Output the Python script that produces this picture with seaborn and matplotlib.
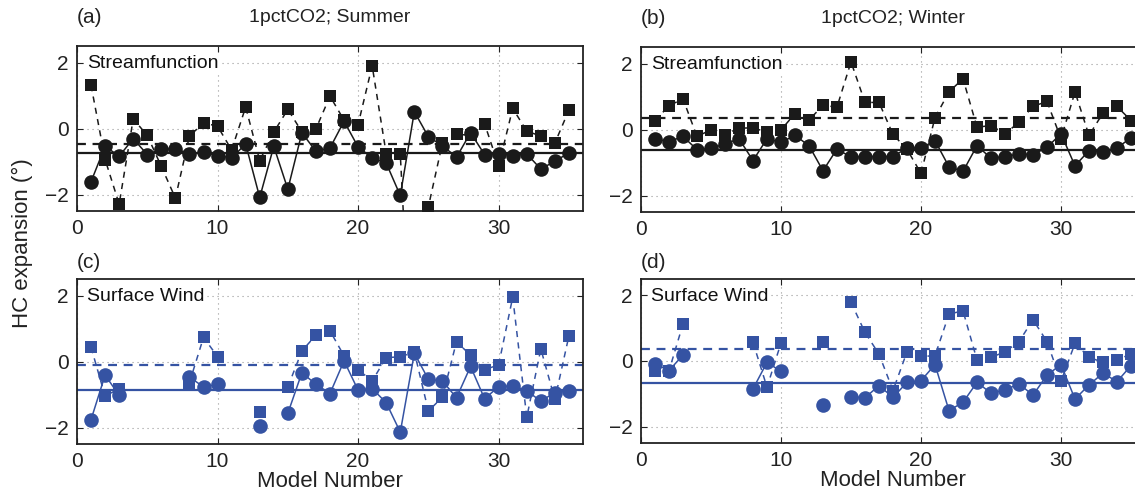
import numpy as np
import pandas as pd
import matplotlib
matplotlib.use("Agg")
import matplotlib.pyplot as plt
import seaborn as sns

nan = np.nan
models = list(range(1, 36))

# (a) summer, streamfunction
a_circ = [-1.61, -0.54, -0.84, -0.31, -0.79, -0.62, -0.62, -0.77, -0.72, -0.82, -0.89, -0.47,
          -2.09, -0.54, -1.84, -0.13, -0.69, -0.59, 0.22, -0.56, -0.89, -1.05, -2.03, 0.51,
          -0.25, -0.52, -0.87, -0.13, -0.79, -0.76, -0.82, -0.77, -1.23, -0.99, -0.74]
a_sq = [1.31, -0.94, -2.29, 0.29, -0.21, -1.15, -2.11, -0.23, 0.17, 0.07, -0.65, 0.65,
        -0.97, -0.11, 0.58, -0.10, -0.01, 0.98, 0.25, 0.12, 1.90, -0.77, -0.77, -9.0,
        -2.37, -0.44, -0.18, -0.20, 0.14, -1.13, 0.61, -0.08, -0.23, -0.44, 0.56]
# (b) winter, streamfunction
b_circ = [-0.28, -0.37, -0.21, -0.61, -0.57, -0.44, -0.28, -0.94, -0.28, -0.39, -0.18, -0.49,
          -1.25, -0.59, -0.84, -0.82, -0.82, -0.82, -0.56, -0.56, -0.34, -1.13, -1.27, -0.49,
          -0.87, -0.82, -0.74, -0.76, -0.54, -0.13, -1.10, -0.64, -0.67, -0.56, -0.25]
b_sq = [0.27, 0.72, 0.93, -0.21, -0.01, -0.16, 0.04, 0.05, -0.08, -0.01, 0.48, 0.29,
        0.73, 0.68, 2.05, 0.82, 0.82, -0.15, -0.60, -1.33, 0.36, 1.14, 1.54, 0.07,
        0.12, -0.13, 0.22, 0.70, 0.85, -0.28, 1.14, -0.18, 0.50, 0.70, 0.27]
# (c) summer, surface wind
c_circ = [-1.76, -0.41, -1.03, nan, nan, nan, nan, -0.47, -0.77, -0.69, nan, nan,
          -1.94, nan, -1.57, -0.34, -0.69, -0.97, 0.02, -0.87, -0.82, -1.25, -2.14, 0.25,
          -0.54, -0.59, -1.10, -0.15, -1.13, -0.76, -0.74, -0.89, -1.20, -0.94, -0.89]
c_sq = [0.43, -1.05, -0.82, nan, nan, nan, nan, -0.64, 0.73, 0.15, nan, nan,
        -1.52, nan, -0.77, 0.32, 0.80, 0.93, 0.17, -0.25, -0.59, 0.12, 0.14, 0.29,
        -1.50, -1.08, 0.60, 0.19, -0.25, -0.10, 1.95, -1.69, 0.38, -1.15, 0.78]
# (d) winter, surface wind
d_circ = [-0.09, -0.29, 0.18, nan, nan, nan, nan, -0.85, -0.04, -0.32, nan, nan,
          -1.34, nan, -1.09, -1.12, -0.75, -1.11, -0.65, -0.60, -0.11, -1.51, -1.26, -0.65,
          -0.98, -0.88, -0.70, -1.04, -0.43, -0.11, -1.16, -0.73, -0.37, -0.63, -0.14]
d_sq = [-0.32, -0.30, 1.13, nan, nan, nan, nan, 0.57, -0.80, 0.55, nan, nan,
        0.59, nan, 1.79, 0.87, 0.21, -0.90, 0.28, 0.14, 0.16, 1.43, 1.53, 0.03,
        0.11, 0.28, 0.59, 1.26, 0.59, -0.62, 0.54, 0.11, -0.04, 0.04, 0.21]

circ_means = [-0.75, -0.61, -0.87, -0.67]
sq_means = [-0.47, 0.36, -0.11, 0.37]
titles = ["1pctCO2; Summer", "1pctCO2; Winter", "", ""]
tags = ["(a)", "(b)", "(c)", "(d)"]
inner = ["Streamfunction", "Streamfunction", "Surface Wind", "Surface Wind"]

black = "#1a1a1a"
blue = "#3553a3"
colors = [black, black, blue, blue]

sns.set_theme(style="ticks")
plt.rcParams["font.family"] = ["Liberation Sans", "DejaVu Sans"]
plt.rcParams["axes.unicode_minus"] = True


def frame(vals):
    v = np.array(vals, dtype=float)
    df = pd.DataFrame({"model": models, "value": v, "seg": np.isnan(v).cumsum()})
    return df.dropna()


fig = plt.figure(figsize=(11.35, 4.93), dpi=100)
W, H = 1135, 493
boxes = [(77, 46, 583, 211), (641, 47, 1145, 212), (77, 279, 583, 444), (641, 279, 1145, 443)]
series = [(a_circ, a_sq), (b_circ, b_sq), (c_circ, c_sq), (d_circ, d_sq)]

for i, (l, t, r, b) in enumerate(boxes):
    ax = fig.add_axes([l / W, 1 - b / H, (r - l) / W, (b - t) / H])
    col = colors[i]
    circ, sq = series[i]
    ax.axhline(circ_means[i], color=col, lw=1.6, zorder=2)
    ax.axhline(sq_means[i], color=col, lw=1.6, ls=(0, (4, 3)), zorder=2)
    sns.lineplot(data=frame(sq), x="model", y="value", units="seg", estimator=None,
                 color=col, lw=1.1, linestyle=(0, (4, 3.5)), marker="s", markersize=8,
                 markeredgewidth=0, ax=ax, zorder=3)
    sns.lineplot(data=frame(circ), x="model", y="value", units="seg", estimator=None,
                 color=col, lw=1.1, marker="o", markersize=10.5,
                 markeredgewidth=0, ax=ax, zorder=4)
    ax.set_xlim(0, 36)
    ax.set_ylim(-2.5, 2.5)
    ax.set_xticks([0, 10, 20, 30])
    ax.set_yticks([-2, 0, 2])
    ax.grid(True, ls=(0, (1, 3.5)), color="#999999", lw=0.8)
    ax.tick_params(direction="in", length=4, width=0.8, top=True, right=True,
                   labelsize=15, colors="#222222", pad=6)
    for s in ax.spines.values():
        s.set_linewidth(1.3)
        s.set_color("#222222")
    ax.set_xlabel("Model Number" if i >= 2 else "", fontsize=16, labelpad=0, color="#222222")
    ax.set_ylabel("")
    ty = 1.17 if i < 2 else 1.10
    ax.text(0.0, ty, tags[i], transform=ax.transAxes, fontsize=15, va="center",
            ha="left", color="#222222")
    if titles[i]:
        ax.text(0.5, ty, titles[i], transform=ax.transAxes, fontsize=14, va="center",
                ha="center", color="#222222")
    ax.text(0.02, 0.895, inner[i], transform=ax.transAxes, fontsize=14, va="center",
            ha="left", color="#111111", zorder=5,
            bbox=dict(facecolor="white", edgecolor="none", pad=1))

fig.text(22 / W, 1 - 243 / H, "HC expansion (°)", rotation=90, fontsize=16,
         va="center", ha="center", color="#222222")

fig.savefig("out.png", dpi=100)
